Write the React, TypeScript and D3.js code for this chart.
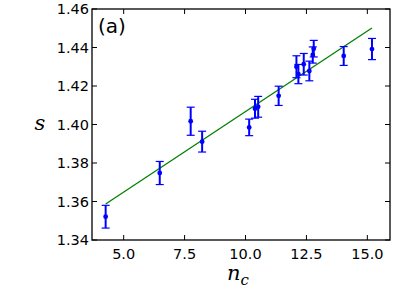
import React from 'react';
import * as d3 from 'd3';

// measured points (n_c, s, error)
const ncValues = [4.26, 6.48, 7.75, 8.22, 10.15, 10.39, 10.52, 11.36, 12.09, 12.17, 12.39, 12.62, 12.76, 12.8, 14.03, 15.19];
const sValues = [1.3521, 1.3748, 1.4017, 1.3911, 1.3985, 1.4082, 1.4092, 1.4149, 1.43, 1.4262, 1.4313, 1.4278, 1.4361, 1.4394, 1.4356, 1.4392];
const sErrors = [0.0059, 0.006, 0.0073, 0.0054, 0.0043, 0.0049, 0.0054, 0.005, 0.0057, 0.005, 0.0056, 0.0051, 0.0042, 0.0043, 0.0049, 0.0055];

// linear fit endpoints
const fitX = [4.26, 15.19];
const fitY = [1.3587, 1.4501];

const xTicks = [5.0, 7.5, 10.0, 12.5, 15.0];
const yTicks = [1.34, 1.36, 1.38, 1.4, 1.42, 1.44, 1.46];

const W = 399;
const H = 299;
const margin = { top: 9, right: 9, bottom: 59, left: 92 };

export default function App() {
  const x = d3.scaleLinear().domain([3.7, 15.93]).range([margin.left, W - margin.right]);
  const y = d3.scaleLinear().domain([1.34, 1.46]).range([H - margin.bottom, margin.top]);

  const fitLine = d3.line<number>()
    .x((d) => x(d))
    .y((_, i) => y(fitY[i]));

  const x0 = margin.left;
  const x1 = W - margin.right;
  const y0 = H - margin.bottom;
  const y1 = margin.top;
  const tick = 5;
  const font = 'DejaVu Sans, sans-serif';

  return (
    <div style={{ position: 'fixed', left: 0, top: 0 }}>
      <svg width={W} height={H} style={{ display: 'block', background: '#fff' }}>
        {/* fit line */}
        <path d={fitLine(fitX) || ''} fill="none" stroke="#008000" strokeWidth={1.3} />

        {/* error bars and points */}
        {ncValues.map((nc, i) => {
          const cx = x(nc);
          const top = y(sValues[i] + sErrors[i]);
          const bot = y(sValues[i] - sErrors[i]);
          return (
            <g key={i}>
              <line x1={cx} x2={cx} y1={top} y2={bot} stroke="#0000ff" strokeWidth={2} />
              <line x1={cx - 4} x2={cx + 4} y1={top} y2={top} stroke="#0000ff" strokeWidth={1.2} />
              <line x1={cx - 4} x2={cx + 4} y1={bot} y2={bot} stroke="#0000ff" strokeWidth={1.2} />
              <circle cx={cx} cy={y(sValues[i])} r={2.4} fill="#0000ff" />
            </g>
          );
        })}

        {/* ticks */}
        {xTicks.map((t) => (
          <g key={'x' + t}>
            <line x1={x(t)} x2={x(t)} y1={y0} y2={y0 - tick} stroke="#000" strokeWidth={1} />
            <line x1={x(t)} x2={x(t)} y1={y1} y2={y1 + tick} stroke="#000" strokeWidth={1} />
            <text x={x(t)} y={259} textAnchor="middle" fontFamily={font} fontSize={14.5} fill="#000">
              {t.toFixed(1)}
            </text>
          </g>
        ))}
        {yTicks.map((t) => (
          <g key={'y' + t}>
            <line x1={x0} x2={x0 + tick} y1={y(t)} y2={y(t)} stroke="#000" strokeWidth={1} />
            <line x1={x1} x2={x1 - tick} y1={y(t)} y2={y(t)} stroke="#000" strokeWidth={1} />
            <text x={89} y={y(t)} dy="0.36em" textAnchor="end" fontFamily={font} fontSize={14.5} fill="#000">
              {t.toFixed(2)}
            </text>
          </g>
        ))}

        {/* frame */}
        <rect x={x0} y={y1} width={x1 - x0} height={y0 - y1} fill="none" stroke="#000" strokeWidth={1.3} />

        {/* panel label */}
        <text x={98} y={33} fontFamily={font} fontSize={20} fill="#000">(a)</text>

        {/* axis labels */}
        <text x={34.5} y={129.5} fontFamily="DejaVu Serif, serif" fontStyle="italic" fontSize={21} fill="#000">s</text>
        <text x={227} y={280} fontFamily="DejaVu Serif, serif" fontStyle="italic" fontSize={21} fill="#000">
          n
          <tspan fontSize={15} dy={4.5}>c</tspan>
        </text>
      </svg>
    </div>
  );
}
